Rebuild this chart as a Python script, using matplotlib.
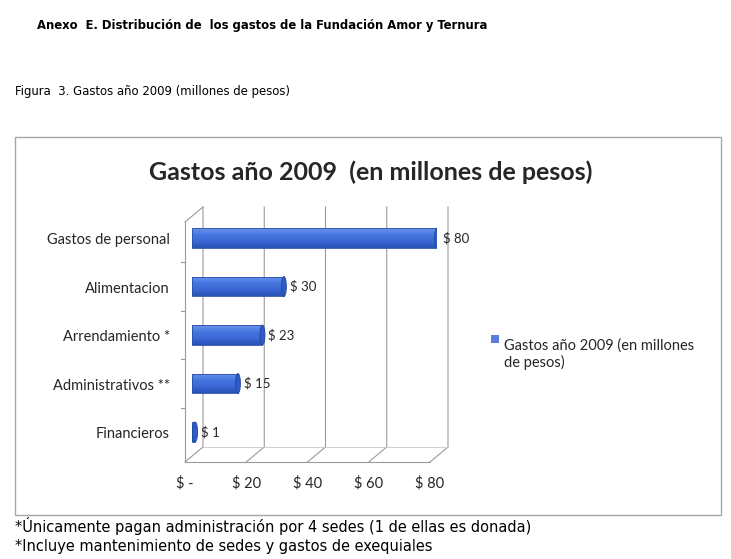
import numpy as np
import matplotlib.pyplot as plt
from matplotlib.patches import Rectangle, Ellipse
from matplotlib.transforms import blended_transform_factory
from matplotlib.colors import LinearSegmentedColormap

# Datos
categorias = ['Gastos de personal', 'Alimentacion', 'Arrendamiento *',
              'Administrativos **', 'Financieros']
valores = [80, 30, 23, 15, 1]
etiquetas_valor = ['$ 80', '$ 30', '$ 23', '$ 15', '$ 1']
ticks_x = [0, 20, 40, 60, 80]
ticks_lbl = ['$ -', '$ 20', '$ 40', '$ 60', '$ 80']

chart_font = ['Lato', 'DejaVu Sans']
doc_font = ['Liberation Sans Narrow', 'DejaVu Sans']

fig = plt.figure(figsize=(7.31, 5.59), dpi=100)
W, H = 731, 559

def fx(px):
    return px / W

def fy(py):
    return 1 - py / H

# textos del documento
fig.text(fx(37), fy(25), 'Anexo  E. Distribución de  los gastos de la Fundación Amor y Ternura',
         family=doc_font, stretch='condensed', weight='bold', fontsize=9.3, va='center', ha='left')
fig.text(fx(15), fy(92), 'Figura  3. Gastos año 2009 (millones de pesos)',
         family=doc_font, stretch='condensed', fontsize=9.4, va='center', ha='left')
fig.text(fx(15), fy(526), '*Únicamente pagan administración por 4 sedes (1 de ellas es donada)',
         family=doc_font, stretch='condensed', fontsize=11.7, va='center', ha='left')
fig.text(fx(15), fy(547), '*Incluye mantenimiento de sedes y gastos de exequiales',
         family=doc_font, stretch='condensed', fontsize=11.7, va='center', ha='left')

# marco del grafico
fig.patches.append(Rectangle((fx(15), fy(515)), fx(721) - fx(15), fy(137) - fy(515),
                             transform=fig.transFigure, fill=False,
                             edgecolor='#a6a6a6', linewidth=1.0))
fig.text(fx(371), fy(172), 'Gastos año 2009  (en millones de pesos)',
         family=chart_font, weight='bold', fontsize=18, ha='center', va='center',
         color='#262626')

# ejes: 0..80 entre x=192 y x=437 px
ax = fig.add_axes([fx(192), fy(462), fx(437) - fx(192), fy(207) - fy(462)])
ax.axis('off')

pxu = (437 - 192) / 80.0
back_dx, front_dx = 11 / pxu, -7 / pxu
back_bot = 4.31
grid_c = '#9a9a9a'
for t in ticks_x:
    ax.plot([t + back_dx, t + back_dx, t + front_dx], [-0.64, back_bot, 4.62],
            color=grid_c, lw=0.8, clip_on=False)
# pared izquierda y piso
ax.plot([front_dx, front_dx], [-0.33, 4.62], color=grid_c, lw=0.8, clip_on=False)
ax.plot([front_dx, back_dx], [-0.33, -0.64], color=grid_c, lw=0.8, clip_on=False)
ax.plot([front_dx, 80 + front_dx], [4.62, 4.62], color=grid_c, lw=0.8, clip_on=False)
ax.plot([back_dx, 80 + back_dx], [back_bot, back_bot], color='#c8c8c8', lw=0.6, clip_on=False)
for b in np.arange(0.5, 4.0, 1.0):
    ax.plot([front_dx - 1.2, front_dx], [b, b], color=grid_c, lw=0.8, clip_on=False)

# barras con efecto cilindro (degradado recortado a cada barra)
cmap = LinearSegmentedColormap.from_list('cil', ['#6d93ec', '#4677e0', '#3b68d4', '#2a52b8'])
grad = np.linspace(0, 1, 64).reshape(-1, 1)
y = np.arange(len(categorias))
h = 0.41
bars = ax.barh(y, valores, height=h, color='none', edgecolor='#2a4fa8', linewidth=0.6, zorder=4)
for b in bars:
    x0, y0 = b.get_x(), b.get_y()
    im = ax.imshow(grad, cmap=cmap, aspect='auto', origin='upper',
                   extent=(x0, x0 + b.get_width(), y0 + b.get_height(), y0), zorder=3)
    im.set_clip_path(b)
    # tapa del cilindro
    ax.add_patch(Ellipse((x0 + b.get_width(), y0 + b.get_height() / 2), 5 / pxu, b.get_height(),
                         facecolor='#2f5bc4', edgecolor='#23479f', linewidth=0.6, zorder=5))
ax.set_xlim(0, 80)
ax.set_ylim(4.62, -0.64)

for yi, v, lbl in zip(y, valores, etiquetas_valor):
    ax.text(v + 6 / pxu, yi, lbl, family=chart_font, fontsize=9.5, va='center', ha='left',
            color='#262626', zorder=5)

for yi, c in zip(y, categorias):
    ax.text(-22 / pxu, yi + 0.05, c, family=chart_font, fontsize=10.5, va='center', ha='right',
            color='#262626')

tr = blended_transform_factory(ax.transData, ax.transAxes)
for t, lbl in zip(ticks_x, ticks_lbl):
    ax.text(t + front_dx, -0.082, lbl, transform=tr, family=chart_font, fontsize=10.5,
            ha='center', va='center', color='#262626')

# leyenda
fig.patches.append(Rectangle((fx(491), fy(343)), fx(8), 8 / H, transform=fig.transFigure,
                             facecolor='#5b7fdb', edgecolor='none'))
fig.text(fx(504), fy(338), 'Gastos año 2009 (en millones\nde pesos)', family=chart_font,
         fontsize=10.5, ha='left', va='top', linespacing=1.2, color='#262626',
         transform=fig.transFigure)

fig.savefig('out.png', dpi=100)
